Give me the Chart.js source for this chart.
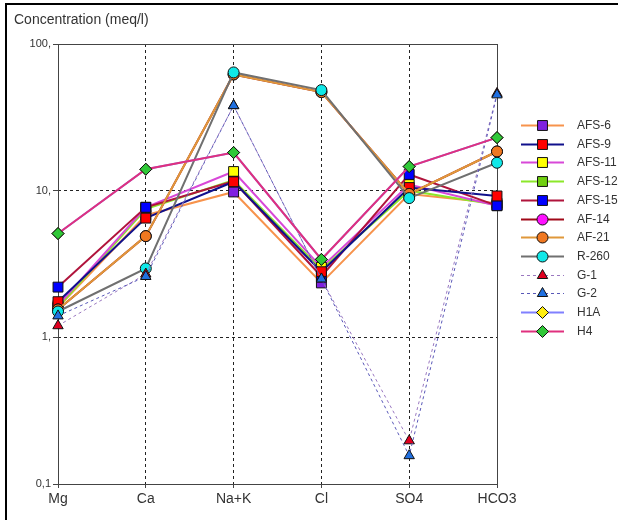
<!DOCTYPE html>
<html>
<head>
<meta charset="utf-8">
<script src="https://cdn.jsdelivr.net/npm/chart.js@4.4.0/dist/chart.umd.min.js"></script>
<style>
  body { margin: 0; background: #fff; }
  #wrap { position: relative; width: 621px; height: 520px; }
</style>
</head>
<body>
<div id="wrap"><canvas id="ionChart" width="621" height="520"></canvas></div>
<script>
/* Data (meq/l) */
let ions = ['Mg', 'Ca', 'Na+K', 'Cl', 'SO4', 'HCO3'];
let yTicks = [0.1, 1, 10, 100];
let yTickLabels = ['0,1', '1,', '10,', '100,'];

let afs6 = [1.6, 6.8, 9.8, 2.35, 9.5, 8.2];
let afs9 = [1.75, 6.5, 11.5, 2.8, 10.5, 9.2];
let afs11 = [1.65, 7.7, 13.5, 3.0, 11, 7.9];
let afs12 = [1.6, 7.5, 11.8, 2.9, 10, 8.0];
let afs15 = [2.2, 7.7, 11.6, 2.6, 12.9, 7.9];
let af14 = [1.55, 4.9, 62, 47, 9.5, 18.5];
let af21 = [1.55, 4.9, 62, 47, 9.5, 18.5];
let r260 = [1.5, 2.95, 64, 48.5, 8.9, 15.5];
let g1 = [1.2, 2.7, 38, 2.5, 0.197, 46];
let g2 = [1.4, 2.6, 38, 2.5, 0.156, 45];
let h1a = [5.1, 14, 18.2, 3.4, 14.6, 23];
let h4 = [5.1, 14, 18.2, 3.4, 14.6, 23];

// lower number = drawn on top
let drawOrder = [11, 7, 9, 10, 8, 6, 5, 4, 3, 2, 1, 0];

const FONT = "'Liberation Sans', Arial, sans-serif";

function series(label, data, line, fill, shape, radius, dashed) {
  return {
    label: label,
    data: data,
    borderColor: line,
    borderWidth: dashed ? 1 : 2,
    borderDash: dashed ? [3, 3] : [],
    pointStyle: shape,
    pointRadius: radius,
    pointBackgroundColor: fill,
    pointBorderColor: '#111',
    pointBorderWidth: 1,
    tension: 0,
    fill: false,
  };
}

let datasets = [
  series('AFS-6', afs6, '#F7934C', '#8020E0', 'rect', 7),
  series('AFS-9', afs9, '#10108C', '#FF0000', 'rect', 7),
  series('AFS-11', afs11, '#D848D8', '#FFFF00', 'rect', 7),
  series('AFS-12', afs12, '#8CE82A', '#70D010', 'rect', 7),
  series('AFS-15', afs15, '#B0143C', '#0000FF', 'rect', 7),
  series('AF-14', af14, '#A00818', '#FF10FF', 'circle', 5.5),
  series('AF-21', af21, '#E0983A', '#F07820', 'circle', 5.5),
  series('R-260', r260, '#707070', '#10E8E8', 'circle', 5.5),
  series('G-1', g1, '#9A78C0', '#E00020', 'triangle', 6, true),
  series('G-2', g2, '#5858B8', '#2070E0', 'triangle', 6, true),
  series('H1A', h1a, '#8080FF', '#FFEE10', 'rectRot', 6),
  series('H4', h4, '#E0307E', '#30C838', 'rectRot', 6),
];
datasets.forEach((ds, i) => { ds.order = drawOrder[i]; });

//-----------------------------------------------//
/* Frame, plot box, title and side legend */
//-----------------------------------------------//
const decorPlugin = {
  id: 'decor',
  beforeDatasetsDraw(chart) {
    let ctx = chart.ctx;
    let a = chart.chartArea;
    ctx.save();
    ctx.strokeStyle = '#444';
    ctx.lineWidth = 1;
    ctx.setLineDash([]);
    ctx.strokeRect(Math.round(a.left) + 0.5, Math.round(a.top) + 0.5,
      Math.round(a.right - a.left), Math.round(a.bottom - a.top));
    ctx.restore();
  },
  afterDraw(chart) {
    let ctx = chart.ctx;
    ctx.save();
    // outer frame
    ctx.fillStyle = '#000';
    ctx.fillRect(5, 3, 2, 517);
    ctx.fillRect(5, 3, 613, 2);
    // axis title
    ctx.fillStyle = '#333';
    ctx.font = '14px ' + FONT;
    ctx.textBaseline = 'middle';
    ctx.fillText('Concentration (meq/l)', 14, 20);
    // legend
    let y0 = 125;
    let step = 18.7;
    chart.data.datasets.forEach((ds, i) => {
      let y = Math.round(y0 + i * step) + 0.5;
      ctx.strokeStyle = ds.borderColor;
      ctx.lineWidth = ds.borderWidth;
      ctx.setLineDash(ds.borderDash);
      ctx.beginPath();
      ctx.moveTo(521, y);
      ctx.lineTo(564, y);
      ctx.stroke();
      ctx.setLineDash([]);
      ctx.fillStyle = ds.pointBackgroundColor;
      ctx.strokeStyle = '#111';
      ctx.lineWidth = 1;
      Chart.helpers.drawPoint(ctx, {
        pointStyle: ds.pointStyle,
        radius: ds.pointRadius,
        borderWidth: 1,
        rotation: 0,
      }, 542.5, y);
      ctx.fillStyle = '#333';
      ctx.font = '12px ' + FONT;
      ctx.textBaseline = 'middle';
      ctx.fillText(ds.label, 577, y);
    });
    ctx.restore();
  },
};

let ctx = document.getElementById('ionChart').getContext('2d');
let ionChart = new Chart(ctx, {
  type: 'line',
  data: {
    labels: ions,
    datasets: datasets,
  },
  plugins: [decorPlugin],
  options: {
    responsive: false,
    animation: false,
    layout: {
      padding: { left: 0, top: 44, right: 124, bottom: 0 },
    },
    plugins: {
      legend: { display: false },
      tooltip: { enabled: false },
    },
    scales: {
      x: {
        type: 'category',
        offset: false,
        afterFit: (scale) => { scale.height = 36; },
        grid: {
          color: '#222',
          lineWidth: 1,
          tickLength: 4,
          tickColor: '#444',
          tickBorderDash: [],
        },
        border: { display: false, dash: [3, 3] },
        ticks: {
          color: '#333',
          padding: 3,
          maxRotation: 0,
          font: { family: FONT, size: 14 },
        },
      },
      y: {
        type: 'logarithmic',
        min: 0.1,
        max: 100,
        afterFit: (scale) => { scale.width = 58; },
        afterBuildTicks: (scale) => {
          scale.ticks = yTicks.map((v) => ({ value: v }));
        },
        grid: {
          color: '#222',
          lineWidth: 1,
          tickLength: 5,
          tickColor: '#444',
          tickBorderDash: [],
        },
        border: { display: false, dash: [3, 3] },
        ticks: {
          color: '#333',
          padding: 2,
          font: { family: FONT, size: 11 },
          callback: function (value) {
            let i = yTicks.indexOf(value);
            return i >= 0 ? yTickLabels[i] : '';
          },
        },
      },
    },
  },
});
</script>
</body>
</html>
